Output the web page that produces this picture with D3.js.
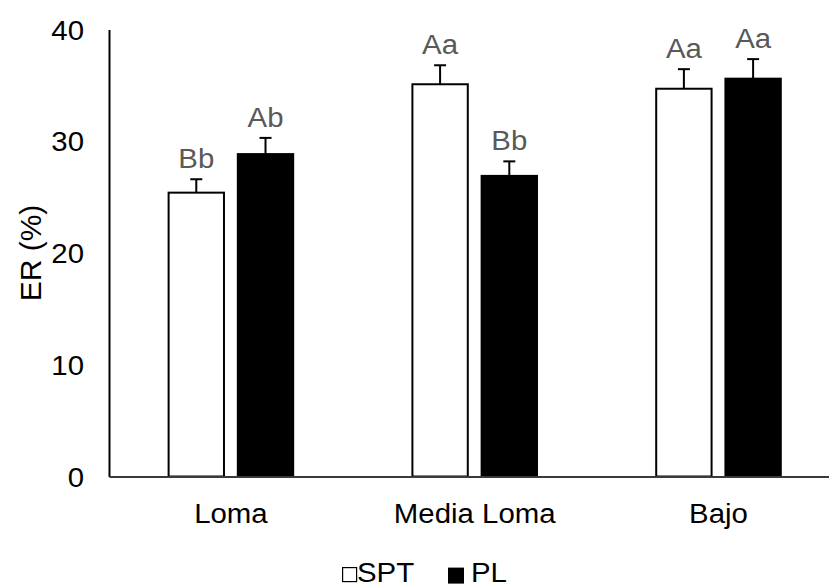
<!DOCTYPE html>
<html>
<head>
<meta charset="utf-8">
<script src="https://cdn.jsdelivr.net/npm/d3@7"></script>
<style>
  html, body { margin: 0; padding: 0; background: #fff; }
  svg { display: block; font-family: "Liberation Sans", Arial, sans-serif; }
</style>
</head>
<body>
<svg id="chart" width="829" height="586"></svg>
<script>
// Sites along the slope and the two management treatments
const categories = ["Loma", "Media Loma", "Bajo"];
const series = ["SPT", "PL"];

// ER (%) means and standard errors per site
const sptValues = [25.4, 35.1, 34.7];
const plValues = [28.85, 26.9, 35.6];
const sptErrors = [1.2, 1.7, 1.75];
const plErrors = [1.45, 1.3, 1.75];

// Significance letters above each bar
const sptLetters = ["Bb", "Aa", "Aa"];
const plLetters = ["Ab", "Bb", "Aa"];

const yTicks = [0, 10, 20, 30, 40];

const fills = { SPT: "#ffffff", PL: "#000000" };

const rows = [];
categories.forEach((c, i) => {
  rows.push({ cat: c, s: "SPT", v: sptValues[i], e: sptErrors[i], t: sptLetters[i] });
  rows.push({ cat: c, s: "PL", v: plValues[i], e: plErrors[i], t: plLetters[i] });
});

const svg = d3.select("#chart");
const fontPx = 28;
const sx = 1.05; // horizontal text stretch

const x = d3.scaleBand().domain(categories).range([109, 840.4]).padding(0);
const bw = x.bandwidth();
const span = bw * 0.511;
const xs = d3.scaleBand().domain(series)
  .range([bw / 2 - span / 2, bw / 2 + span / 2]).paddingInner(0.2).paddingOuter(0);
const y = d3.scaleLinear().domain([0, 40]).range([476.5, 29.5]);

// bars
svg.append("g").selectAll("rect").data(rows).join("rect")
  .attr("x", d => x(d.cat) + xs(d.s))
  .attr("y", d => y(d.v))
  .attr("width", xs.bandwidth())
  .attr("height", d => y(0) - y(d.v))
  .attr("fill", d => fills[d.s])
  .attr("stroke", "#000")
  .attr("stroke-width", 2);

// error bars (upper only)
const eg = svg.append("g").attr("stroke", "#000").attr("stroke-width", 2);
rows.forEach(d => {
  const cx = x(d.cat) + xs(d.s) + xs.bandwidth() / 2;
  eg.append("line").attr("x1", cx).attr("x2", cx).attr("y1", y(d.v)).attr("y2", y(d.v + d.e));
  eg.append("line").attr("x1", cx - 6).attr("x2", cx + 6).attr("y1", y(d.v + d.e)).attr("y2", y(d.v + d.e));
});

// letters
svg.append("g").selectAll("text").data(rows).join("text")
  .attr("transform", d => `translate(${x(d.cat) + xs(d.s) + xs.bandwidth() / 2},${y(d.v + d.e) - 11}) scale(${sx},1)`)
  .attr("text-anchor", "middle")
  .attr("font-size", fontPx)
  .attr("fill", "#595959")
  .text(d => d.t);

// axes
const yAxis = d3.axisLeft(y).tickValues(yTicks).tickSize(0).tickPadding(0);
const yg = svg.append("g").attr("transform", "translate(109,0)").call(yAxis);
yg.select(".domain").attr("stroke", "#000").attr("stroke-width", 2);
yg.selectAll("text").remove();
svg.append("g").selectAll("text").data(yTicks).join("text")
  .attr("transform", d => `translate(84,${y(d)}) scale(${sx},1)`)
  .attr("dy", "0.358em")
  .attr("text-anchor", "end")
  .attr("font-size", fontPx)
  .attr("fill", "#000")
  .text(d => d);

const xAxis = d3.axisBottom(x).tickSize(0).tickPadding(0);
const xg = svg.append("g").attr("transform", `translate(0,${y(0)})`).call(xAxis);
xg.select(".domain").attr("stroke", "#3a3a3a").attr("stroke-width", 2);
xg.selectAll("text").remove();
svg.append("g").selectAll("text").data(categories).join("text")
  .attr("transform", d => `translate(${x(d) + bw / 2},523) scale(${sx},1)`)
  .attr("text-anchor", "middle")
  .attr("font-size", fontPx)
  .attr("fill", "#000")
  .text(d => d);

// y title
svg.append("text")
  .attr("transform", "translate(41,253) rotate(-90)")
  .attr("text-anchor", "middle")
  .attr("font-size", 30)
  .attr("fill", "#000")
  .text("ER (%)");

// legend
const legend = svg.append("g");
const legendItems = [
  { s: "SPT", box: 342, label: 357 },
  { s: "PL", box: 448, label: 471 }
];
legendItems.forEach(it => {
  legend.append("rect")
    .attr("x", it.box + (it.s === "SPT" ? 0.6 : 0)).attr("y", 567.6)
    .attr("width", it.s === "SPT" ? 14 : 16).attr("height", it.s === "SPT" ? 14 : 16)
    .attr("fill", fills[it.s]).attr("stroke", "#000").attr("stroke-width", it.s === "SPT" ? 1.2 : 0);
  legend.append("text")
    .attr("transform", `translate(${it.label},582) scale(${sx},1)`)
    .attr("font-size", fontPx)
    .attr("fill", "#000")
    .text(it.s);
});
</script>
</body>
</html>
